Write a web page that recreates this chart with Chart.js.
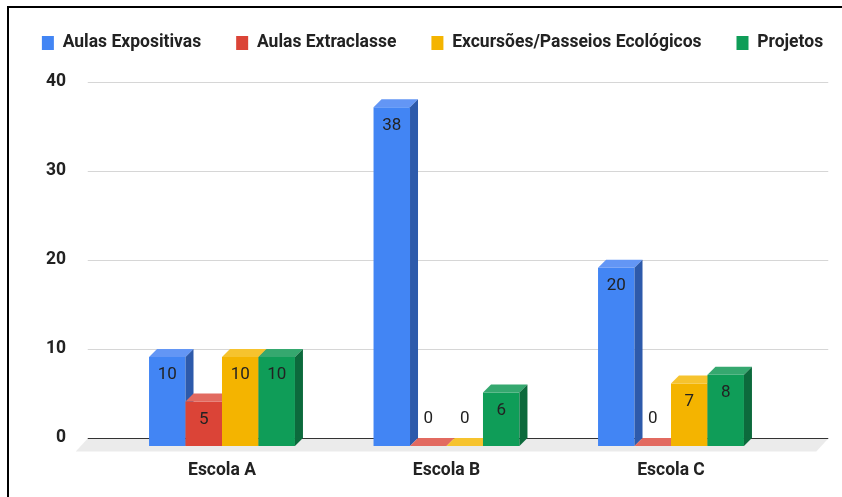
<!DOCTYPE html>
<html><head><meta charset="utf-8">
<script src="https://cdn.jsdelivr.net/npm/chart.js@4/dist/chart.umd.min.js"></script>
<style>html,body{margin:0;padding:0;background:#fff;overflow:hidden}</style>
</head><body>
<canvas id="c" width="842" height="497"></canvas>
<script>
const categories = ['Escola A', 'Escola B', 'Escola C'];
const seriesNames = ['Aulas Expositivas', 'Aulas Extraclasse', 'Excursões/Passeios Ecológicos', 'Projetos'];
const aulasExpositivas = [10, 38, 20];
const aulasExtraclasse = [5, 0, 0];
const excursoesPasseios = [10, 0, 7];
const projetos = [10, 6, 8];
const yTicks = [0, 10, 20, 30, 40];

const frontColors = ['#4285F4', '#DB4437', '#F4B400', '#0F9D58'];
const topColors = ['#6396f5', '#e26a60', '#f6c32e', '#35a86f'];
const sideColors = ['#2d5aab', '#9b2f27', '#b08200', '#0c6a3c'];

const FONT = 'Roboto, "Noto Sans", sans-serif';
const D = 8;

function poly(ctx, pts) {
  ctx.beginPath();
  ctx.moveTo(pts[0], pts[1]);
  for (let i = 2; i < pts.length; i += 2) ctx.lineTo(pts[i], pts[i + 1]);
  ctx.closePath();
  ctx.fill();
}

const decor = {
  id: 'decor',
  beforeDraw(chart) {
    const ctx = chart.ctx;
    ctx.save();
    ctx.fillStyle = '#fff';
    ctx.fillRect(0, 0, chart.width, chart.height);
    ctx.fillStyle = '#000';
    ctx.fillRect(7, 6, chart.width - 7, 2);
    ctx.fillRect(7, 6, 2, chart.height - 6);
    ctx.restore();
  },
  beforeDatasetsDraw(chart) {
    const ctx = chart.ctx;
    const ys = chart.scales.y;
    const area = chart.chartArea;
    const gl = area.left - 22, gr = area.right + 45;
    const y0 = Math.round(ys.getPixelForValue(0)) + 0.5;
    ctx.save();
    ctx.fillStyle = '#ebebeb';
    poly(ctx, [gl, y0, gr, y0, gr - 12, y0 + 13, gl - 12, y0 + 13]);
    ctx.lineWidth = 1;
    ys.ticks.forEach(t => {
      const y = Math.round(ys.getPixelForValue(t.value)) + 0.5;
      ctx.strokeStyle = t.value === 0 ? '#333333' : '#d6d6d6';
      ctx.beginPath();
      ctx.moveTo(gl, y);
      ctx.lineTo(gr, y);
      ctx.stroke();
    });
    ctx.restore();
  },
  beforeDatasetDraw() {
    return false;
  },
  afterDatasetsDraw(chart) {
    const ctx = chart.ctx;
    ctx.save();
    chart.data.datasets.forEach((ds, i) => {
      const meta = chart.getDatasetMeta(i);
      meta.data.forEach(el => {
        el.draw(ctx, chart.chartArea);
        const p = el.getProps(['x', 'y', 'base', 'width'], true);
        const l = p.x - p.width / 2, r = p.x + p.width / 2;
        ctx.fillStyle = topColors[i];
        poly(ctx, [l, p.y, r, p.y, r + D, p.y - D, l + D, p.y - D]);
        if (p.base - p.y > 0.5) {
          ctx.fillStyle = sideColors[i];
          poly(ctx, [r, p.y, r + D, p.y - D, r + D, p.base - D, r, p.base]);
        }
      });
    });
    ctx.font = '17px ' + FONT;
    ctx.fillStyle = '#222';
    ctx.textAlign = 'center';
    ctx.textBaseline = 'middle';
    chart.data.datasets.forEach((ds, i) => {
      const meta = chart.getDatasetMeta(i);
      meta.data.forEach((el, j) => {
        const v = ds.data[j];
        const p = el.getProps(['x', 'y', 'base'], true);
        const y = v === 0 ? p.base - 27 : p.y + 18;
        ctx.fillText(String(v), p.x, y);
      });
    });
    ctx.restore();
  }
};

const seriesData = [aulasExpositivas, aulasExtraclasse, excursoesPasseios, projetos];
const axisFont = { family: FONT, size: 17.5, weight: 'bold' };

new Chart(document.getElementById('c'), {
  type: 'bar',
  data: {
    labels: categories,
    datasets: seriesNames.map((name, i) => ({
      label: name,
      data: seriesData[i],
      backgroundColor: frontColors[i],
      borderWidth: 0,
      yAxisID: 'yf',
      categoryPercentage: 0.65,
      barPercentage: 1
    }))
  },
  options: {
    responsive: false,
    animation: false,
    devicePixelRatio: 1,
    layout: { padding: { left: 1, top: -0.75, right: -22, bottom: 1 } },
    plugins: {
      tooltip: { enabled: false },
      legend: {
        position: 'top',
        labels: {
          boxWidth: 12,
          boxHeight: 14,
          padding: 35,
          color: '#222',
          font: axisFont
        }
      }
    },
    scales: {
      x: {
        offset: true,
        grid: { display: false, drawTicks: false },
        border: { display: false },
        ticks: { padding: 14.5, color: '#222', font: axisFont }
      },
      y: {
        position: 'left',
        min: -0.8976,
        max: 42.216,
        afterBuildTicks: s => { s.ticks = yTicks.map(v => ({ value: v })); },
        afterFit: s => { s.width = 108.75; s.paddingTop = 0; s.paddingBottom = 0; },
        grid: { display: false, drawTicks: false },
        border: { display: false },
        ticks: { padding: 43.75, color: '#222', font: axisFont }
      },
      yf: {
        position: 'right',
        min: 0,
        max: 43.114,
        afterFit: s => { s.width = 80.75; s.paddingTop = 0; s.paddingBottom = 0; },
        grid: { display: false, drawTicks: false },
        border: { display: false },
        ticks: { display: false }
      }
    }
  },
  plugins: [decor]
});
</script>
</body></html>
